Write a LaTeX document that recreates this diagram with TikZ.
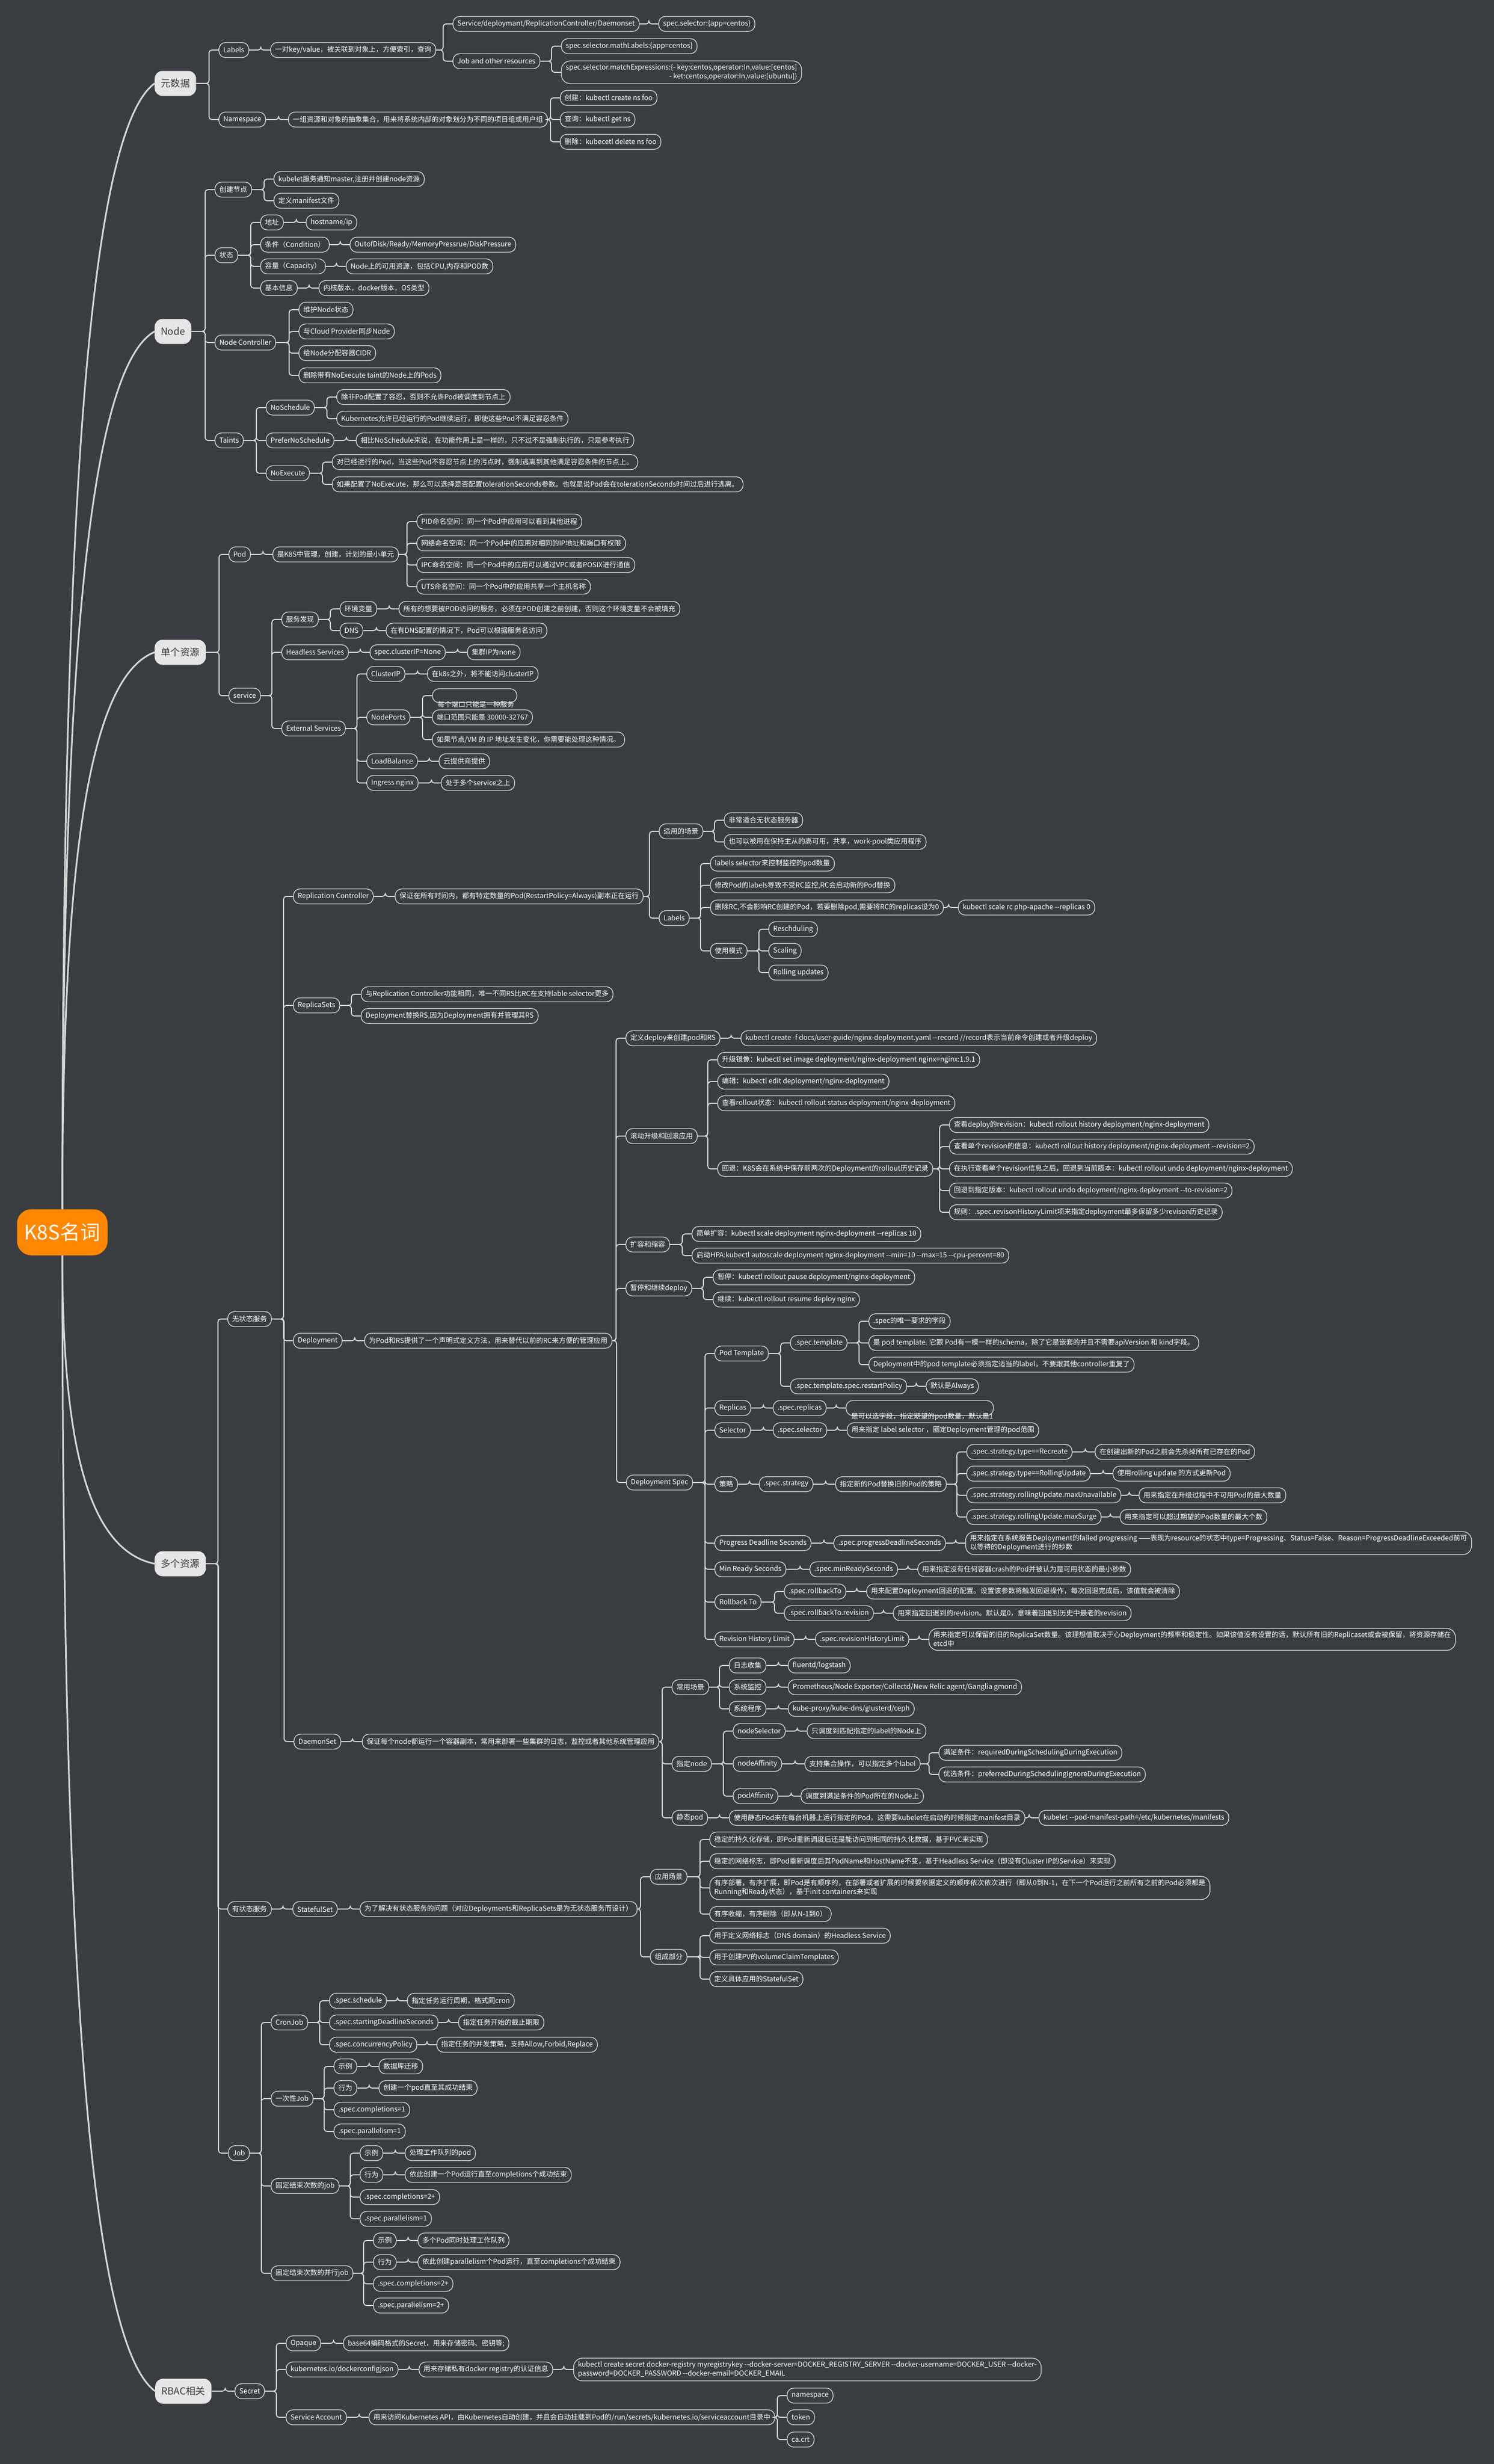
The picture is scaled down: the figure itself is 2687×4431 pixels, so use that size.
\documentclass[tikz,border=0pt]{standalone}
\usepackage{fontspec}
\setmainfont{Noto Sans CJK SC}
\definecolor{bg}{HTML}{393C41}
\definecolor{ln}{HTML}{D6D6D6}
\definecolor{mainfill}{HTML}{E6E6E6}
\definecolor{maintext}{HTML}{3A3A3A}
\definecolor{rootfill}{HTML}{FF8700}
\newcommand\dd{-\kern0pt-}
\tikzset{
  box/.style={draw=ln, line width=1.3pt, rounded corners=12pt, fill=bg, text=white,
    font=\fontsize{12.5}{16}\selectfont, inner xsep=8pt, inner ysep=4pt, minimum height=27pt, anchor=west},
  two/.style={box, align=left, rounded corners=16pt, inner ysep=6pt},
  txt/.style={text=white, font=\fontsize{12.5}{16}\selectfont, inner sep=0pt, anchor=west},
  mainnode/.style={fill=mainfill, text=maintext, font=\fontsize{17.5}{20}\selectfont,
    rounded corners=14pt, minimum height=45pt, inner xsep=11pt, anchor=west},
  rootnode/.style={fill=rootfill, text=white, font=\fontsize{36}{40}\selectfont,
    rounded corners=26pt, minimum width=163pt, minimum height=83pt, inner sep=0pt},
  conn/.style={draw=ln, line width=1.8pt, rounded corners=5pt},
  rootconn/.style={draw=ln, line width=3pt}
}
\newcommand\N[4]{\node[box] (#1) at (#2,#3) {#4};}
\newcommand\kid[2]{\draw[conn] (#2.west) -- ++(-17,0) |- (#1.east);}
\newcommand\kids[2]{\foreach \kk in {#2}{\kid{#1}{\kk}}}
\begin{document}
\begin{tikzpicture}[x=1pt,y=-1pt]
\fill[bg] (0,0) rectangle (2687,4431);
\useasboundingbox (0,0) rectangle (2687,4431);

% ---------- root and main topics ----------
\node[rootnode] (root) at (112,2216) {K8S名词};
\node[mainnode] (m1) at (278,150) {元数据};
\node[mainnode] (m2) at (278,596) {Node};
\node[mainnode] (m3) at (278,1173) {单个资源};
\node[mainnode] (m4) at (278,2812) {多个资源};
\node[mainnode] (m5) at (279,4300) {RBAC相关};
\draw[rootconn] (root.north) .. controls (113,1162) and (140,251) .. (m1.west);
\draw[rootconn] (root.north) .. controls (113,1385) and (140,675) .. (m2.west);
\draw[rootconn] (root.north) .. controls (113,1673) and (140,1223) .. (m3.west);
\draw[rootconn] (root.south) .. controls (113,2534) and (140,2784) .. (m4.west);
\draw[rootconn] (root.south) .. controls (113,3278) and (140,4198) .. (m5.west);

% ---------- 元数据 ----------
\N{a1}{393}{90}{Labels}
\N{a1t}{486}{90}{一对key/value，被关联到对象上，方便索引，查询}
\N{a1a}{814}{43}{Service/deploymant/ReplicationController/Daemonset}
\N{a1a1}{1184}{43}{spec.selector:\{app=centos\}}
\N{a1b}{814}{110}{Job and other resources}
\N{a1b1}{1009}{83}{spec.selector.mathLabels:\{app=centos\}}
\node[two, align=right] (a1b2) at (1009,130) {spec.selector.matchExpressions:\{- key:centos,operator:In,value:[centos]\\- ket:centos,operator:In,value:[ubuntu]\}};
\N{a2}{393}{215}{Namespace}
\N{a2t}{518}{215}{一组资源和对象的抽象集合，用来将系统内部的对象划分为不同的项目组或用户组}
\N{a2a}{1007}{176}{创建：kubectl create ns foo}
\N{a2b}{1007}{215}{查询：kubectl get ns}
\N{a2c}{1007}{255}{删除：kubecetl delete ns foo}
\kids{m1}{a1,a2}
\kid{a1}{a1t}
\kids{a1t}{a1a,a1b}
\kid{a1a}{a1a1}
\kids{a1b}{a1b1,a1b2}
\kid{a2}{a2t}
\kids{a2t}{a2a,a2b,a2c}

% ---------- Node ----------
\N{b1}{386}{341}{创建节点}
\N{b1a}{492}{322}{kubelet服务通知master,注册并创建node资源}
\N{b1b}{492}{361}{定义manifest文件}
\N{b2}{386}{459}{状态}
\N{b2a}{468}{400}{地址}
\N{b2a1}{550}{400}{hostname/ip}
\N{b2b}{468}{440}{条件（Condition）}
\N{b2b1}{629}{440}{OutofDisk/Ready/MemoryPressrue/DiskPressure}
\N{b2c}{468}{479}{容量（Capacity）}
\N{b2c1}{622}{479}{Node上的可用资源，包括CPU,内存和POD数}
\N{b2d}{468}{518}{基本信息}
\N{b2d1}{573}{518}{内核版本，docker版本，OS类型}
\N{b3}{386}{616}{Node Controller}
\N{b3a}{537}{557}{维护Node状态}
\N{b3b}{537}{596}{与Cloud Provider同步Node}
\N{b3c}{537}{635}{给Node分配容器CIDR}
\N{b3d}{537}{675}{删除带有NoExecute taint的Node上的Pods}
\N{b4}{386}{792}{Taints}
\N{b4a}{478}{733}{NoSchedule}
\N{b4a1}{605}{714}{除非Pod配置了容忍，否则不允许Pod被调度到节点上}
\N{b4a2}{605}{753}{Kubernetes允许已经运行的Pod继续运行，即使这些Pod不满足容忍条件}
\N{b4b}{478}{792}{PreferNoSchedule}
\N{b4b1}{640}{792}{相比NoSchedule来说，在功能作用上是一样的，只不过不是强制执行的，只是参考执行}
\N{b4c}{478}{851}{NoExecute}
\N{b4c1}{597}{831}{对已经运行的Pod，当这些Pod不容忍节点上的污点时，强制逃离到其他满足容忍条件的节点上。}
\N{b4c2}{597}{871}{如果配置了NoExecute，那么可以选择是否配置tolerationSeconds参数。也就是说Pod会在tolerationSeconds时间过后进行逃离。}
\kids{m2}{b1,b2,b3,b4}
\kids{b1}{b1a,b1b}
\kids{b2}{b2a,b2b,b2c,b2d}
\kid{b2a}{b2a1}\kid{b2b}{b2b1}\kid{b2c}{b2c1}\kid{b2d}{b2d1}
\kids{b3}{b3a,b3b,b3c,b3d}
\kids{b4}{b4a,b4b,b4c}
\kids{b4a}{b4a1,b4a2}
\kid{b4b}{b4b1}
\kids{b4c}{b4c1,b4c2}

% ---------- 单个资源 ----------
\N{c1}{411}{997}{Pod}
\N{c1t}{490}{997}{是K8S中管理，创建，计划的最小单元}
\N{c1a}{749}{938}{PID命名空间：同一个Pod中应用可以看到其他进程}
\N{c1b}{749}{977}{网络命名空间：同一个Pod中的应用对相同的IP地址和端口有权限}
\N{c1c}{749}{1016}{IPC命名空间：同一个Pod中的应用可以通过VPC或者POSIX进行通信}
\N{c1d}{749}{1055}{UTS命名空间：同一个Pod中的应用共享一个主机名称}
\N{c2}{411}{1251}{service}
\N{c2a}{506}{1114}{服务发现}
\N{c2a1}{611}{1095}{环境变量}
\N{c2a1t}{717}{1095}{所有的想要被POD访问的服务，必须在POD创建之前创建，否则这个环境变量不会被填充}
\N{c2a2}{611}{1134}{DNS}
\N{c2a2t}{694}{1134}{在有DNS配置的情况下，Pod可以根据服务名访问}
\N{c2b}{506}{1173}{Headless Services}
\N{c2b1}{665}{1173}{spec.clusterIP=None}
\N{c2b2}{840}{1173}{集群IP为none}
\N{c2c}{506}{1310}{External Services}
\N{c2c1}{659}{1212}{ClusterIP}
\N{c2c1t}{768}{1212}{在k8s之外，将不能访问clusterIP}
\N{c2c2}{659}{1290}{NodePorts}
\node[box, minimum width=152pt, minimum height=25pt] (c2c2a) at (777,1251) {};
\node[txt] (c2c2at) at (787,1267) {每个端口只能是一种服务};
\N{c2c2b}{777}{1290}{端口范围只能是 30000-32767}
\N{c2c2c}{777}{1330}{如果节点/VM 的 IP 地址发生变化，你需要能处理这种情况。}
\N{c2c3}{659}{1369}{LoadBalance}
\N{c2c3t}{789}{1369}{云提供商提供}
\N{c2c4}{659}{1408}{Ingress nginx}
\N{c2c4t}{793}{1408}{处于多个service之上}
\kids{m3}{c1,c2}
\kid{c1}{c1t}
\kids{c1t}{c1a,c1b,c1c,c1d}
\kids{c2}{c2a,c2b,c2c}
\kids{c2a}{c2a1,c2a2}
\kid{c2a1}{c2a1t}\kid{c2a2}{c2a2t}
\kid{c2b}{c2b1}\kid{c2b1}{c2b2}
\kids{c2c}{c2c1,c2c2,c2c3,c2c4}
\kid{c2c1}{c2c1t}
\kids{c2c2}{c2c2a,c2c2b,c2c2c}
\kid{c2c3}{c2c3t}\kid{c2c4}{c2c4t}

% ---------- 多个资源 : 无状态服务 ----------
\N{d1}{409}{2372}{无状态服务}
\N{d1a}{527}{1612}{Replication Controller}
\N{d1at}{710}{1612}{保证在所有时间内，都有特定数量的Pod(RestartPolicy=Always)副本正在运行}
\N{d1a1}{1185}{1495}{适用的场景}
\N{d1a1a}{1302}{1475}{非常适合无状态服务器}
\N{d1a1b}{1302}{1514}{也可以被用在保持主从的高可用，共享，work-pool类应用程序}
\N{d1a2}{1185}{1651}{Labels}
\N{d1a2a}{1277}{1553}{labels selector来控制监控的pod数量}
\N{d1a2b}{1277}{1592}{修改Pod的labels导致不受RC监控,RC会启动新的Pod替换}
\N{d1a2c}{1277}{1632}{删除RC,不会影响RC创建的Pod，若要删除pod,需要将RC的replicas设为0}
\N{d1a2c1}{1723}{1632}{kubectl scale rc php-apache \dd replicas 0}
\N{d1a2d}{1277}{1710}{使用模式}
\N{d1a2d1}{1382}{1671}{Reschduling}
\N{d1a2d2}{1382}{1710}{Scaling}
\N{d1a2d3}{1382}{1749}{Rolling updates}
\N{d1b}{527}{1808}{ReplicaSets}
\N{d1b1}{649}{1788}{与Replication Controller功能相同，唯一不同RS比RC在支持lable selector更多}
\N{d1b2}{649}{1827}{Deployment替换RS,因为Deployment拥有并管理其RS}
\N{d1c}{527}{2411}{Deployment}
\N{d1ct}{655}{2411}{为Pod和RS提供了一个声明式定义方法，用来替代以前的RC来方便的管理应用}
\N{e1}{1125}{1867}{定义deploy来创建pod和RS}
\N{e1t}{1332}{1867}{kubectl create -f docs/user-guide/nginx-deployment.yaml \dd record //record表示当前命令创建或者升级deploy}
\N{e2}{1125}{2043}{滚动升级和回滚应用}
\N{e2a}{1290}{1906}{升级镜像：kubectl set image deployment/nginx-deployment nginx=nginx:1.9.1}
\N{e2b}{1290}{1945}{编辑：kubectl edit deployment/nginx-deployment}
\N{e2c}{1290}{1984}{查看rollout状态：kubectl rollout status deployment/nginx-deployment}
\N{e2d}{1290}{2102}{回退：K8S会在系统中保存前两次的Deployment的rollout历史记录}
\N{e2d1}{1707}{2023}{查看deploy的revision：kubectl rollout history deployment/nginx-deployment}
\N{e2d2}{1707}{2062}{查看单个revision的信息：kubectl rollout history deployment/nginx-deployment \dd revision=2}
\N{e2d3}{1707}{2102}{在执行查看单个revision信息之后，回退到当前版本：kubectl rollout undo deployment/nginx-deployment}
\N{e2d4}{1707}{2141}{回退到指定版本：kubectl rollout undo deployment/nginx-deployment \dd to-revision=2}
\N{e2d5}{1707}{2180}{规则：.spec.revisonHistoryLimit项来指定deployment最多保留多少revison历史记录}
\N{e3}{1125}{2238}{扩容和缩容}
\N{e3a}{1244}{2219}{简单扩容：kubectl scale deployment nginx-deployment \dd replicas 10}
\N{e3b}{1244}{2258}{启动HPA:kubectl autoscale deployment nginx-deployment \dd min=10 \dd max=15 \dd cpu-percent=80}
\N{e4}{1125}{2317}{暂停和继续deploy}
\N{e4a}{1282}{2297}{暂停：kubectl rollout pause deployment/nginx-deployment}
\N{e4b}{1282}{2337}{继续：kubectl rollout resume deploy nginx}
\N{e5}{1126}{2666}{Deployment Spec}
\N{f1}{1285}{2434}{Pod Template}
\N{f1a}{1421}{2415}{.spec.template}
\N{f1a1}{1562}{2376}{.spec的唯一要求的字段}
\N{f1a2}{1562}{2415}{是 pod template. 它跟 Pod有一模一样的schema，除了它是嵌套的并且不需要apiVersion 和 kind字段。}
\N{f1a3}{1562}{2454}{Deployment中的pod template必须指定适当的label，不要跟其他controller重复了}
\N{f1b}{1421}{2493}{.spec.template.spec.restartPolicy}
\N{f1b1}{1665}{2493}{默认是Always}
\N{f2}{1285}{2532}{Replicas}
\N{f2a}{1390}{2532}{.spec.replicas}
\node[box, minimum width=265pt, minimum height=27pt] (f2a1) at (1521,2532) {};
\node[txt] (f2a1t) at (1531,2548) {是可以选字段，指定期望的pod数量，默认是1};
\N{f3}{1285}{2572}{Selector}
\N{f3a}{1390}{2572}{.spec.selector}
\N{f3a1}{1523}{2572}{用来指定 label selector ，圈定Deployment管理的pod范围}
\N{f4}{1285}{2669}{策略}
\N{f4a}{1365}{2669}{.spec.strategy}
\N{f4a1}{1502}{2669}{指定新的Pod替换旧的Pod的策略}
\N{g1}{1738}{2611}{.spec.strategy.type==Recreate}
\N{g1t}{1969}{2611}{在创建出新的Pod之前会先杀掉所有已存在的Pod}
\N{g2}{1738}{2650}{.spec.strategy.type==RollingUpdate}
\N{g2t}{2001}{2650}{使用rolling update 的方式更新Pod}
\N{g3}{1738}{2689}{.spec.strategy.rollingUpdate.maxUnavailable}
\N{g3t}{2048}{2689}{用来指定在升级过程中不可用Pod的最大数量}
\N{g4}{1738}{2728}{.spec.strategy.rollingUpdate.maxSurge}
\N{g4t}{2014}{2728}{用来指定可以超过期望的Pod数量的最大个数}
\N{f5}{1285}{2775}{Progress Deadline Seconds}
\N{f5a}{1499}{2775}{.spec.progressDeadlineSeconds}
\node[two] (f5a1) at (1736,2775) {用来指定在系统报告Deployment的failed progressing ——表现为resource的状态中type=Progressing、Status=False、Reason=ProgressDeadlineExceeded前可\\以等待的Deployment进行的秒数};
\N{f6}{1285}{2822}{Min Ready Seconds}
\N{f6a}{1456}{2822}{.spec.minReadySeconds}
\N{f6a1}{1650}{2822}{用来指定没有任何容器crash的Pod并被认为是可用状态的最小秒数}
\N{f7}{1285}{2881}{Rollback To}
\N{f7a}{1410}{2862}{.spec.rollbackTo}
\N{f7a1}{1558}{2862}{用来配置Deployment回退的配置。设置该参数将触发回退操作，每次回退完成后，该值就会被清除}
\N{f7b}{1410}{2901}{.spec.rollbackTo.revision}
\N{f7b1}{1606}{2901}{用来指定回退到的revision。默认是0，意味着回退到历史中最老的revision}
\N{f8}{1285}{2948}{Revision History Limit}
\N{f8a}{1466}{2948}{.spec.revisionHistoryLimit}
\node[two] (f8a1) at (1670,2948) {用来指定可以保留的旧的ReplicaSet数量。该理想值取决于心Deployment的频率和稳定性。如果该值没有设置的话，默认所有旧的Replicaset或会被保留，将资源存储在\\etcd中};
\N{d1d}{528}{3132}{DaemonSet}
\N{d1dt}{651}{3132}{保证每个node都运行一个容器副本，常用来部署一些集群的日志，监控或者其他系统管理应用}
\N{h1}{1208}{3034}{常用场景}
\N{h1a}{1311}{2995}{日志收集}
\N{h1a1}{1417}{2995}{fluentd/logstash}
\N{h1b}{1311}{3034}{系统监控}
\N{h1b1}{1417}{3034}{Prometheus/Node Exporter/Collectd/New Relic agent/Ganglia gmond}
\N{h1c}{1311}{3073}{系统程序}
\N{h1c1}{1417}{3073}{kube-proxy/kube-dns/glusterd/ceph}
\N{h2}{1208}{3172}{指定node}
\N{h2a}{1318}{3113}{nodeSelector}
\N{h2a1}{1451}{3113}{只调度到匹配指定的label的Node上}
\N{h2b}{1318}{3172}{nodeAffinity}
\N{h2b1}{1447}{3172}{支持集合操作，可以指定多个label}
\N{h2b1a}{1688}{3152}{满足条件：requiredDuringSchedulingDuringExecution}
\N{h2b1b}{1688}{3191}{优选条件：preferredDuringSchedulingIgnoreDuringExecution}
\N{h2c}{1318}{3230}{podAffinity}
\N{h2c1}{1440}{3230}{调度到满足条件的Pod所在的Node上}
\N{h3}{1208}{3269}{静态pod}
\N{h3a}{1311}{3269}{使用静态Pod来在每台机器上运行指定的Pod，这需要kubelet在启动的时候指定manifest目录}
\N{h3a1}{1868}{3269}{kubelet \dd pod-manifest-path=/etc/kubernetes/manifests}

\kids{d1}{d1a,d1b,d1c,d1d}
\kid{d1a}{d1at}
\kids{d1at}{d1a1,d1a2}
\kids{d1a1}{d1a1a,d1a1b}
\kids{d1a2}{d1a2a,d1a2b,d1a2c,d1a2d}
\kid{d1a2c}{d1a2c1}
\kids{d1a2d}{d1a2d1,d1a2d2,d1a2d3}
\kids{d1b}{d1b1,d1b2}
\kid{d1c}{d1ct}
\kids{d1ct}{e1,e2,e3,e4,e5}
\kid{e1}{e1t}
\kids{e2}{e2a,e2b,e2c,e2d}
\kids{e2d}{e2d1,e2d2,e2d3,e2d4,e2d5}
\kids{e3}{e3a,e3b}
\kids{e4}{e4a,e4b}
\kids{e5}{f1,f2,f3,f4,f5,f6,f7,f8}
\kids{f1}{f1a,f1b}
\kids{f1a}{f1a1,f1a2,f1a3}
\kid{f1b}{f1b1}
\kid{f2}{f2a}\kid{f2a}{f2a1}
\kid{f3}{f3a}\kid{f3a}{f3a1}
\kid{f4}{f4a}\kid{f4a}{f4a1}
\kids{f4a1}{g1,g2,g3,g4}
\kid{g1}{g1t}\kid{g2}{g2t}\kid{g3}{g3t}\kid{g4}{g4t}
\kid{f5}{f5a}\kid{f5a}{f5a1}
\kid{f6}{f6a}\kid{f6a}{f6a1}
\kids{f7}{f7a,f7b}
\kid{f7a}{f7a1}\kid{f7b}{f7b1}
\kid{f8}{f8a}\kid{f8a}{f8a1}
\kid{d1d}{d1dt}
\kids{d1dt}{h1,h2,h3}
\kids{h1}{h1a,h1b,h1c}
\kid{h1a}{h1a1}\kid{h1b}{h1b1}\kid{h1c}{h1c1}
\kids{h2}{h2a,h2b,h2c}
\kid{h2a}{h2a1}
\kid{h2b}{h2b1}
\kids{h2b1}{h2b1a,h2b1b}
\kid{h2c}{h2c1}
\kid{h3}{h3a}\kid{h3a}{h3a1}

% ---------- 有状态服务 ----------
\N{d2}{409}{3433}{有状态服务}
\N{d2a}{526}{3433}{StatefulSet}
\N{d2at}{647}{3433}{为了解决有状态服务的问题（对应Deployments和ReplicaSets是为无状态服务而设计）}
\N{i1}{1169}{3375}{应用场景}
\N{i1a}{1276}{3308}{稳定的持久化存储，即Pod重新调度后还是能访问到相同的持久化数据，基于PVC来实现}
\N{i1b}{1276}{3347}{稳定的网络标志，即Pod重新调度后其PodName和HostName不变，基于Headless Service（即没有Cluster IP的Service）来实现}
\node[two] (i1c) at (1276,3395) {有序部署，有序扩展，即Pod是有顺序的，在部署或者扩展的时候要依据定义的顺序依次依次进行（即从0到N-1，在下一个Pod运行之前所有之前的Pod必须都是\\Running和Ready状态），基于init containers来实现};
\N{i1d}{1276}{3442}{有序收缩，有序删除（即从N-1到0）}
\N{i2}{1169}{3519}{组成部分}
\N{i2a}{1276}{3481}{用于定义网络标志（DNS domain）的Headless Service}
\N{i2b}{1276}{3520}{用于创建PV的volumeClaimTemplates}
\N{i2c}{1276}{3559}{定义具体应用的StatefulSet}
\kid{d2}{d2a}\kid{d2a}{d2at}
\kids{d2at}{i1,i2}
\kids{i1}{i1a,i1b,i1c,i1d}
\kids{i2}{i2a,i2b,i2c}

% ---------- Job ----------
\N{d3}{410}{3872}{Job}
\N{j1}{487}{3637}{CronJob}
\N{j1a}{592}{3598}{.spec.schedule}
\N{j1a1}{732}{3598}{指定任务运行周期，格式同cron}
\N{j1b}{592}{3637}{.spec.startingDeadlineSeconds}
\N{j1b1}{824}{3637}{指定任务开始的截止期限}
\N{j1c}{592}{3677}{.spec.concurrencyPolicy}
\N{j1c1}{785}{3677}{指定任务的并发策略，支持Allow,Forbid,Replace}
\N{j2}{487}{3774}{一次性Job}
\N{j2a}{600}{3716}{示例}
\N{j2a1}{681}{3716}{数据库迁移}
\N{j2b}{600}{3755}{行为}
\N{j2b1}{681}{3755}{创建一个pod直至其成功结束}
\N{j2c}{600}{3794}{.spec.completions=1}
\N{j2d}{600}{3833}{.spec.parallelism=1}
\N{j3}{487}{3931}{固定结束次数的job}
\N{j3a}{647}{3872}{示例}
\N{j3a1}{728}{3872}{处理工作队列的pod}
\N{j3b}{647}{3911}{行为}
\N{j3b1}{728}{3911}{依此创建一个Pod运行直至completions个成功结束}
\N{j3c}{647}{3951}{.spec.completions=2+}
\N{j3d}{647}{3990}{.spec.parallelism=1}
\N{j4}{487}{4088}{固定结束次数的并行job}
\N{j4a}{671}{4029}{示例}
\N{j4a1}{751}{4029}{多个Pod同时处理工作队列}
\N{j4b}{671}{4068}{行为}
\N{j4b1}{751}{4068}{依此创建parallelism个Pod运行，直至completions个成功结束}
\N{j4c}{671}{4107}{.spec.completions=2+}
\N{j4d}{671}{4146}{.spec.parallelism=2+}
\kids{d3}{j1,j2,j3,j4}
\kids{j1}{j1a,j1b,j1c}
\kid{j1a}{j1a1}\kid{j1b}{j1b1}\kid{j1c}{j1c1}
\kids{j2}{j2a,j2b,j2c,j2d}
\kid{j2a}{j2a1}\kid{j2b}{j2b1}
\kids{j3}{j3a,j3b,j3c,j3d}
\kid{j3a}{j3a1}\kid{j3b}{j3b1}
\kids{j4}{j4a,j4b,j4c,j4d}
\kid{j4a}{j4a1}\kid{j4b}{j4b1}

\kids{m4}{d1,d2,d3}

% ---------- RBAC ----------
\N{k1}{422}{4300}{Secret}
\N{k1a}{514}{4214}{Opaque}
\N{k1a1}{617}{4214}{base64编码格式的Secret，用来存储密码、密钥等;}
\N{k1b}{514}{4261}{kubernetes.io/dockerconfigjson}
\N{k1b1}{753}{4261}{用来存储私有docker registry的认证信息}
\node[two] (k1b2) at (1031,4261) {kubectl create secret docker-registry myregistrykey \dd docker-server=DOCKER\_REGISTRY\_SERVER \dd docker-username=DOCKER\_USER \dd docker-\\password=DOCKER\_PASSWORD \dd docker-email=DOCKER\_EMAIL};
\N{k1c}{514}{4347}{Service Account}
\N{k1c1}{663}{4347}{用来访问Kubernetes API，由Kubernetes自动创建，并且会自动挂载到Pod的/run/secrets/kubernetes.io/serviceaccount目录中}
\N{k1c1a}{1415}{4308}{namespace}
\N{k1c1b}{1415}{4347}{token}
\N{k1c1c}{1415}{4387}{ca.crt}
\kid{m5}{k1}
\kids{k1}{k1a,k1b,k1c}
\kid{k1a}{k1a1}
\kid{k1b}{k1b1}\kid{k1b1}{k1b2}
\kid{k1c}{k1c1}
\kids{k1c1}{k1c1a,k1c1b,k1c1c}
\end{tikzpicture}
\end{document}
